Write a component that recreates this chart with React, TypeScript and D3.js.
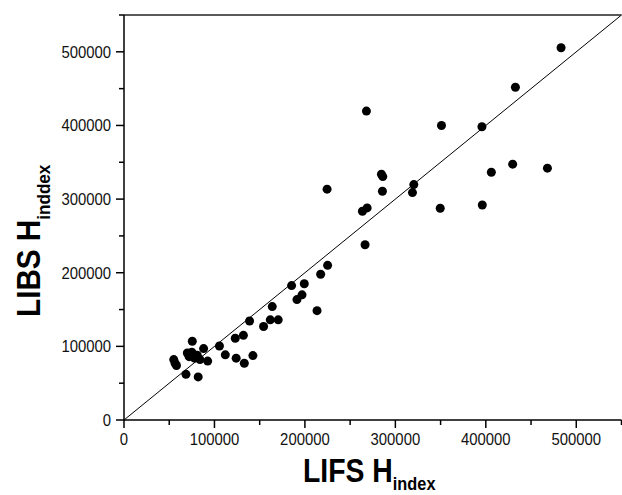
import React from "react";
import * as d3 from "d3";

const lifsValues = [
  55000, 56500, 58000, 68500, 70000, 72000, 75500, 75000, 78000, 81000,
  84000, 88000, 82000, 92500, 105500, 112000, 123000, 124000, 132000, 133000,
  142500, 138800, 154300, 161700, 170500, 163900, 185300, 191200, 196800, 199300,
  213400, 217400, 225100, 224500, 266500, 263600, 268800, 268000, 284600, 286100,
  285700, 320400, 318900, 349600, 351000, 395700, 396100, 406100, 429700, 432700,
  468100, 483200,
];
const libsValues = [
  82000, 77000, 74000, 62000, 91000, 86000, 107000, 92000, 84000, 88000,
  82000, 97000, 58500, 80000, 100500, 88500, 111000, 84000, 115000, 77000,
  87500, 134500, 127000, 136000, 136000, 154000, 182500, 163500, 170000, 185000,
  148500, 198000, 210000, 313500, 238000, 283500, 288000, 419500, 333800, 330600,
  310600, 319700, 308800, 287500, 400000, 398200, 291900, 336500, 347400, 451900,
  342000, 505500,
];
const majorTicks = [0, 100000, 200000, 300000, 400000, 500000];
const minorTicks = [50000, 150000, 250000, 350000, 450000, 550000];
const axisDomain = [0, 550000];
const xTitle = "LIFS H";
const xSub = "index";
const yTitle = "LIBS H";
const ySub = "inddex";

const W = 622;
const H = 495;
const FONT = "'Liberation Sans', Arial, Helvetica, sans-serif";

export default function App() {
  const x = d3.scaleLinear().domain(axisDomain).range([124, 621.5]);
  const y = d3.scaleLinear().domain(axisDomain).range([420, 15]);
  const pts = lifsValues.map((v, i) => [v, libsValues[i]] as [number, number]);
  const diag = d3.line<number>().x((d) => x(d)).y((d) => y(d))(axisDomain) || "";

  return (
    <svg
      width={W}
      height={H}
      style={{ position: "absolute", left: 0, top: 0, background: "#fff" }}
    >
      <rect x={0} y={0} width={W} height={H} fill="#fff" />
      <path d={diag} stroke="#000" strokeWidth={1} fill="none" />
      {pts.map((p, i) => (
        <circle key={i} cx={x(p[0])} cy={y(p[1])} r={4.5} fill="#000" />
      ))}
      <line x1={x(0)} x2={x(550000)} y1={y(550000)} y2={y(550000)} stroke="#222" strokeWidth={1.3} />
      <line x1={x(0)} x2={x(550000)} y1={y(0)} y2={y(0)} stroke="#000" strokeWidth={1.5} />
      <line x1={x(0)} x2={x(0)} y1={y(0)} y2={y(550000)} stroke="#000" strokeWidth={1.5} />
      {majorTicks.map((t) => (
        <line key={"xm" + t} x1={x(t)} x2={x(t)} y1={y(0)} y2={y(0) + 8} stroke="#000" strokeWidth={1.5} />
      ))}
      {minorTicks.map((t) => (
        <line key={"xn" + t} x1={x(t)} x2={x(t)} y1={y(0)} y2={y(0) + 5} stroke="#000" strokeWidth={1.5} />
      ))}
      {majorTicks.map((t) => (
        <line key={"ym" + t} x1={x(0) - 8} x2={x(0)} y1={y(t)} y2={y(t)} stroke="#000" strokeWidth={1.5} />
      ))}
      {minorTicks.map((t) => (
        <line key={"yn" + t} x1={x(0) - 5} x2={x(0)} y1={y(t)} y2={y(t)} stroke="#000" strokeWidth={1.5} />
      ))}
      {majorTicks.map((t) => (
        <text
          key={"xl" + t}
          transform={`translate(${x(t)},445) scale(0.93,1)`}
          textAnchor="middle"
          fontFamily={FONT}
          fontSize={16}
          fill="#111"
        >
          {String(t)}
        </text>
      ))}
      {majorTicks.map((t) => (
        <text
          key={"yl" + t}
          transform={`translate(111,${y(t) + 5.8}) scale(0.93,1)`}
          textAnchor="end"
          fontFamily={FONT}
          fontSize={16}
          fill="#111"
        >
          {String(t)}
        </text>
      ))}
      <text
        transform="translate(303,482) scale(0.86,1)"
        fontFamily={FONT}
        fontWeight="bold"
        fontSize={33}
        fill="#000"
      >
        {xTitle}
        <tspan fontSize={19} dy={8}>{xSub}</tspan>
      </text>
      <text
        transform="translate(40,317) rotate(-90) scale(0.9,1)"
        fontFamily={FONT}
        fontWeight="bold"
        fontSize={33}
        fill="#000"
      >
        {yTitle}
        <tspan fontSize={19} dy={10}>{ySub}</tspan>
      </text>
    </svg>
  );
}
